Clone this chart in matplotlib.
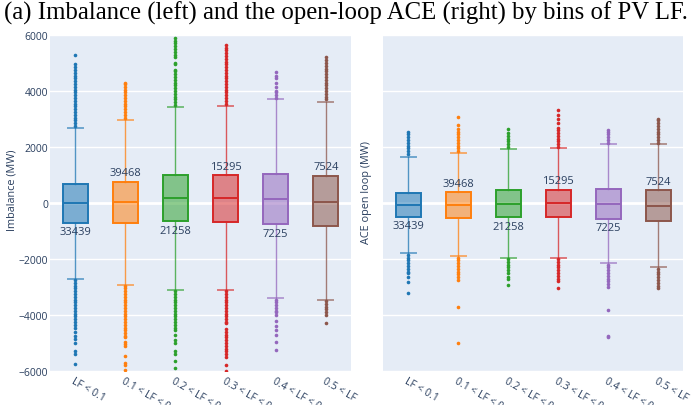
import matplotlib
matplotlib.use("Agg")
from matplotlib import pyplot as plt

bins = ["LF < 0.1", "0.1 < LF < 0.2", "0.2 < LF < 0.3", "0.3 < LF < 0.4", "0.4 < LF < 0.5", "0.5 < LF"]
counts = [33439, 39468, 21258, 15295, 7225, 7524]
colors = ["#1f77b4", "#ff7f0e", "#2ca02c", "#d62728", "#9467bd", "#8c564b"]

# imbalance (MW) box stats per bin
imb_q1 = [-703, -714, -655, -670, -762, -821]
imb_med = [10, 48, 167, 167, 131, 24]
imb_q3 = [667, 762, 988, 988, 1036, 976]
imb_lo = [-2700, -2917, -3107, -3119, -3405, -3464]
imb_hi = [2690, 2976, 3440, 3464, 3702, 3619]
imb_out = [
    [2750, 2850, 2950, 3050, 3150, 3250, 3350, 3450, 3550, 3650, 3750, 3850, 3950, 4050, 4150, 4250, 4350,
     4450, 4550, 4650, 4750, 4850, 4950, 5275,
     -2750, -2850, -2950, -3050, -3150, -3250, -3350, -3450, -3550, -3650, -3750, -3850, -3950, -4050, -4150,
     -4250, -4350, -4450, -4600, -4750, -4850, -5000, -5300, -5400, -5750],
    [3050, 3150, 3250, 3350, 3450, 3550, 3650, 3750, 3850, 3950, 4050, 4150, 4250, 4300,
     -2950, -3050, -3150, -3250, -3350, -3450, -3550, -3650, -3750, -3850, -3950, -4050, -4150, -4250, -4350,
     -4450, -4550, -4650, -4750, -4800, -4950, -5050, -5100, -5460, -5700, -5800, -5950],
    [3500, 3600, 3700, 3800, 3900, 4000, 4100, 4200, 4300, 4400, 4500, 4600, 4700, 4750, 4950, 5000, 5200,
     5300, 5400, 5500, 5600, 5700, 5800, 5900,
     -3150, -3250, -3350, -3450, -3550, -3650, -3750, -3850, -3950, -4050, -4150, -4250, -4350, -4450, -4550,
     -4700, -4900, -5000, -5300, -5400, -5650, -5900],
    [3550, 3650, 3750, 3850, 3950, 4050, 4150, 4250, 4350, 4450, 4550, 4650, 4750, 4850, 4950, 5050, 5150,
     5250, 5350, 5450, 5550, 5655,
     -3150, -3250, -3350, -3450, -3550, -3650, -3750, -3850, -3950, -4050, -4150, -4250, -4300, -4500, -4600,
     -4700, -4800, -4900, -5000, -5100, -5200, -5300, -5400, -5500, -5800, -6000],
    [3750, 3850, 3950, 4000, 4150, 4300, 4450, 4550, 4667,
     -3450, -3550, -3650, -3750, -3850, -3900, -4000, -4200, -4400, -4550, -4700, -4950, -5238],
    [3700, 3800, 3900, 4000, 4100, 4200, 4300, 4400, 4500, 4600, 4700, 4800, 4900, 5000, 5100, 5226,
     -3500, -3600, -3700, -3800, -3900, -4000, -4298],
]

# open-loop ACE (MW) box stats per bin
ace_q1 = [-500, -536, -512, -500, -571, -655]
ace_med = [-60, -60, -24, 0, -24, -95]
ace_q3 = [357, 393, 464, 476, 500, 464]
ace_lo = [-1800, -1905, -1964, -1952, -2143, -2274]
ace_hi = [1660, 1786, 1926, 1952, 2095, 2095]
ace_out = [
    [1750, 1850, 1950, 2050, 2150, 2250, 2350, 2450, 2550,
     -1850, -1950, -2050, -2150, -2250, -2350, -2450, -2510, -2650, -2810, -3225],
    [1850, 1950, 2050, 2150, 2250, 2350, 2450, 2550, 2650, 2790, 3071,
     -1950, -2050, -2150, -2250, -2350, -2450, -2550, -2650, -2750, -3700, -5010],
    [2000, 2100, 2200, 2300, 2400, 2500, 2640,
     -2000, -2100, -2200, -2300, -2400, -2510, -2630, -2700, -2928],
    [2000, 2100, 2200, 2300, 2400, 2500, 2600, 2680, 2850, 3000, 3150, 3310,
     -2000, -2100, -2200, -2300, -2400, -2500, -2600, -2700, -2780, -3036],
    [2150, 2250, 2350, 2450, 2550, 2620,
     -2200, -2300, -2400, -2500, -2600, -2700, -2800, -2900, -2988, -3810, -4750, -4800],
    [2150, 2250, 2350, 2450, 2550, 2650, 2750, 2850, 2950, 3012,
     -2350, -2450, -2550, -2650, -2750, -2850, -2950, -3050],
]

yticks = [-6000, -4000, -2000, 0, 2000, 4000, 6000]
bg = "#E5ECF6"
txt = "#2a3f5f"
font = "Open Sans"

fig = plt.figure(figsize=(6.92, 4.06), dpi=100)
fig.text(0.5, 0.997, "(a) Imbalance (left) and the open-loop ACE (right) by bins of PV LF.",
         ha="center", va="top", family="Liberation Serif", fontsize=17.8, color="black")


def draw(ax, q1, med, q3, lo, hi, out, show_y):
    ax.set_facecolor(bg)
    for s in ax.spines.values():
        s.set_visible(False)
    ax.set_ylim(-6000, 6000)
    ax.set_xlim(-0.5, 5.5)
    ax.set_yticks(yticks)
    ax.grid(axis="y", color="white", linewidth=1)
    ax.axhline(0, color="white", linewidth=2, zorder=0.5)
    ax.set_axisbelow(True)
    for i in range(len(bins)):
        st = [dict(q1=q1[i], med=med[i], q3=q3[i], whislo=lo[i], whishi=hi[i], fliers=out[i])]
        c = colors[i]
        ax.bxp(st, positions=[i], widths=0.5, patch_artist=True, capwidths=[0.3],
               boxprops=dict(facecolor=c + "88", edgecolor=c, linewidth=1.4),
               medianprops=dict(color=c, linewidth=1.4),
               whiskerprops=dict(color=c, linewidth=1, alpha=0.75),
               capprops=dict(color=c, linewidth=1.4, alpha=0.6),
               flierprops=dict(marker="o", markersize=2.6, markerfacecolor=c, markeredgecolor="none"))
        if i % 2 == 0:
            ax.annotate(str(counts[i]), (i, q1[i]), xytext=(0, -2.5), textcoords="offset points",
                        ha="center", va="top", fontsize=8, color=txt, family=font)
        else:
            ax.annotate(str(counts[i]), (i, q3[i]), xytext=(0, 2.5), textcoords="offset points",
                        ha="center", va="bottom", fontsize=8, color=txt, family=font)
    ax.set_xticks(range(len(bins)))
    ax.set_xticklabels(bins, rotation=-30, ha="left", va="top", rotation_mode="anchor",
                       fontsize=7.5, color=txt, family=font)
    ax.tick_params(axis="both", length=0, pad=3)
    ax.tick_params(axis="y", pad=1.5)
    if show_y:
        ax.set_yticklabels([str(v).replace("-", "\u2212") for v in yticks], fontsize=7.5, color=txt, family=font)
    else:
        ax.set_yticklabels([])


ax1 = fig.add_axes([50 / 692, 34 / 406, 301 / 692, 336 / 406])
draw(ax1, imb_q1, imb_med, imb_q3, imb_lo, imb_hi, imb_out, True)
ax2 = fig.add_axes([383 / 692, 34 / 406, 300 / 692, 336 / 406])
draw(ax2, ace_q1, ace_med, ace_q3, ace_lo, ace_hi, ace_out, False)

fig.text(12 / 692, 1 - 190 / 406, "Imbalance (MW)", rotation=90, ha="center", va="center",
         fontsize=7.8, color=txt, family=font)
fig.text(366 / 692, 1 - 193 / 406, "ACE open loop (MW)", rotation=90, ha="center", va="center",
         fontsize=7.8, color=txt, family=font)

fig.savefig("out.png", dpi=100)
